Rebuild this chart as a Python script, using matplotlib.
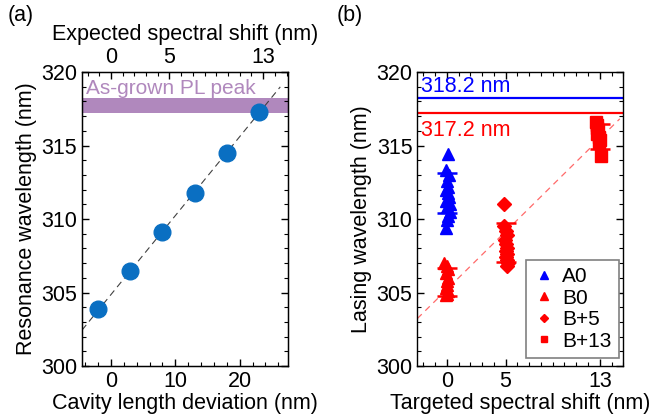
import numpy as np
import matplotlib
matplotlib.use("Agg")
import matplotlib.pyplot as plt
from matplotlib.ticker import MultipleLocator, FixedLocator

plt.rcParams['font.family'] = ['Liberation Sans', 'DejaVu Sans']

# ---------------- data ----------------
# panel (a)
cavity_dev = [-2, 3, 8, 13, 18, 23]
resonance = [303.86, 306.46, 309.09, 311.79, 314.5, 317.3]
pl_band = (317.2, 318.2)
shift_per_length = 0.55          # nm spectral shift per nm cavity length
top_tick_labels = [0, 5, 13]

# panel (b)
A0_x = [0.1, -0.1, 0.2, 0.0, 0.15, -0.05, 0.1, 0.2, -0.1, 0.25, 0.05, 0.3, 0.15, 0.0, -0.1]
A0_y = [314.4, 313.3, 313.0, 312.6, 312.2, 312.0, 311.8, 311.5, 311.2, 311.0, 310.8, 310.5, 310.2, 309.9, 309.4]
B0_x = [-0.2, 0.0, 0.1, -0.1, 0.1, 0.0, 0.05, -0.05, 0.1, 0.0, -0.1]
B0_y = [307.0, 306.8, 306.6, 306.3, 306.0, 305.8, 305.5, 305.3, 305.1, 304.9, 304.8]
B5_x = [4.9, 4.9, 5.0, 5.1, 4.95, 5.05, 5.1, 5.0, 5.15, 5.05, 5.1, 5.2, 5.15]
B5_y = [311.0, 309.5, 309.2, 308.9, 308.6, 308.3, 308.0, 307.8, 307.6, 307.4, 307.2, 307.0, 306.8]
B13_x = [12.7, 12.8, 12.75, 12.85, 12.8, 12.9, 13.0, 12.95, 13.1]
B13_y = [316.6, 316.4, 316.2, 316.0, 315.8, 315.6, 315.4, 315.2, 314.3]
group_x = [0, 0, 5, 13]
group_mean = [311.75, 305.71, 308.4, 315.6]
group_std = [1.35, 0.93, 1.33, 0.86]
group_color = ['#0000FF', '#FF0000', '#FF0000', '#FF0000']
line_blue = 318.2
line_red = 317.2
guide_intercept = 305.2
guide_slope = 0.79

# ---------------- figure ----------------
fig = plt.figure(figsize=(6.5, 4.19), dpi=100)
axA = fig.add_axes([82/650, 1-366/419, 206/650, 294/419])
axB = fig.add_axes([417.3/650, 1-366/419, 206/650, 294/419])

FS = 15.5
TFS = 15.5

def style(ax):
    for s in ax.spines.values():
        s.set_linewidth(1.0)
    ax.tick_params(which='both', direction='in', top=True, right=True, labelsize=TFS)
    ax.tick_params(which='major', length=5, width=1.0)
    ax.tick_params(which='minor', length=3, width=0.8)

# ---- panel (a) ----
axA.set_xlim(-4.5, 27.5)
axA.set_ylim(300, 320)
axA.axhspan(pl_band[0], pl_band[1], color='#B088BD', lw=0, zorder=1)
axA.text(-3.9, 318.9, 'As-grown PL peak', color='#B088BD', fontsize=15, va='center', ha='left')
p = np.polyfit(cavity_dev, resonance, 1)
xl = np.array([-4.5, 26.3])
axA.plot(xl, np.polyval(p, xl), ls=(0, (6, 4)), color='#404040', lw=0.8, zorder=2)
axA.plot(cavity_dev, resonance, 'o', ms=12, color='#0A6FC2', mec='#0A6FC2', zorder=3)
axA.xaxis.set_major_locator(FixedLocator([0, 10, 20]))
axA.xaxis.set_minor_locator(MultipleLocator(2))
axA.yaxis.set_major_locator(MultipleLocator(5))
axA.yaxis.set_minor_locator(MultipleLocator(1))
style(axA)
axA.tick_params(which='both', top=False)
axA.set_xlabel('Cavity length deviation (nm)', fontsize=FS, labelpad=1)
axA.set_ylabel('Resonance wavelength (nm)', fontsize=FS, labelpad=3)

top = axA.twiny()
top.set_xlim(axA.get_xlim())
top.set_xticks([t / shift_per_length for t in top_tick_labels])
top.set_xticklabels([str(t) for t in top_tick_labels])
top.xaxis.set_minor_locator(FixedLocator(np.arange(-2, 16) / shift_per_length))
top.tick_params(which='both', direction='in', labelsize=TFS, pad=3)
top.tick_params(which='major', length=5, width=1.0)
top.tick_params(which='minor', length=3, width=0.8)
top.set_xlabel('Expected spectral shift (nm)', fontsize=FS, labelpad=5)

# ---- panel (b) ----
axB.set_xlim(-2.5, 15)
axB.set_ylim(300, 320)
axB.axhline(line_blue, color='#0000FF', lw=1.6)
axB.axhline(line_red, color='#FF0000', lw=1.6)
axB.text(-2.2, 319.0, f'{line_blue} nm', color='#0000FF', fontsize=FS, va='center')
axB.text(-2.2, 316.0, f'{line_red} nm', color='#FF0000', fontsize=FS, va='center')
xg = np.array([-2.5, 14.7])
axB.plot(xg, guide_intercept + guide_slope * xg, ls=(0, (5, 4)), color='#FF6A6A', lw=0.9, zorder=2)
axB.plot(A0_x, A0_y, '^', ms=9, color='#0000FF', ls='none', label='A0', zorder=3)
axB.plot(B0_x, B0_y, '^', ms=9, color='#FF0000', ls='none', label='B0', zorder=3)
axB.plot(B5_x, B5_y, 'D', ms=7, color='#FF0000', ls='none', label='B+5', zorder=3)
axB.plot(B13_x, B13_y, 's', ms=8, color='#FF0000', ls='none', label='B+13', zorder=3)
for gx, gm, gs, gc in zip(group_x, group_mean, group_std, group_color):
    axB.errorbar([gx], [gm], yerr=[gs], fmt='none', ecolor=gc, elinewidth=1.5,
                 capsize=7.5, capthick=1.8, zorder=4)
axB.xaxis.set_major_locator(FixedLocator([0, 5, 13]))
axB.xaxis.set_minor_locator(MultipleLocator(1))
axB.yaxis.set_major_locator(MultipleLocator(5))
axB.yaxis.set_minor_locator(MultipleLocator(1))
style(axB)
axB.set_xlabel('Targeted spectral shift (nm)', fontsize=FS, labelpad=1)
axB.set_ylabel('Lasing wavelength (nm)', fontsize=FS, labelpad=3)
leg = axB.legend(loc='lower right', bbox_to_anchor=(619/650, 1-358/419),
                 bbox_transform=fig.transFigure, borderaxespad=0,
                 fontsize=15, markerscale=0.6, fancybox=False,
                 edgecolor='#808080', framealpha=1, handletextpad=0.4, borderpad=0.35,
                 labelspacing=0.12, handlelength=1.0)
leg.get_frame().set_linewidth(1.2)

fig.text(8/650, 1-15/419, '(a)', fontsize=FS, va='center', ha='left')
fig.text(337/650, 1-15/419, '(b)', fontsize=FS, va='center', ha='left')

fig.savefig('out.png', dpi=100)
